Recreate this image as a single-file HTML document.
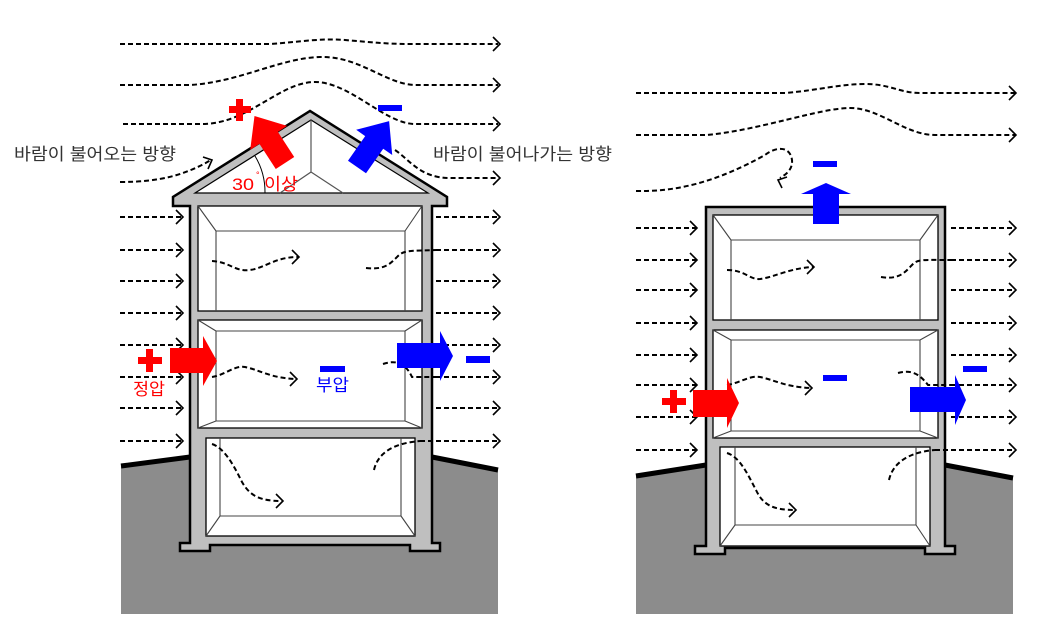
<!DOCTYPE html>
<html><head><meta charset="utf-8"><style>
html,body{margin:0;padding:0;background:#fff;}
svg{display:block;}
text{font-family:"Liberation Sans","Noto Sans CJK KR",sans-serif;}
</style></head><body>
<svg width="1050" height="636" viewBox="0 0 1050 636" xmlns="http://www.w3.org/2000/svg">
<polygon points="121,466 190,457 190,614 121,614" fill="#8c8c8c"/>
<polygon points="432,457 498,470 498,614 432,614" fill="#8c8c8c"/>
<rect x="180" y="540" width="260" height="74" fill="#8c8c8c"/>
<path d="M121,466 L190,457 M432,457 L498,470" stroke="#000" stroke-width="5" fill="none"/>
<polygon points="636,476 706,465 706,614 636,614" fill="#8c8c8c"/>
<polygon points="945,465 1013,478 1013,614 945,614" fill="#8c8c8c"/>
<rect x="695" y="540" width="260" height="74" fill="#8c8c8c"/>
<path d="M636,476 L706,465 M945,465 L1013,478" stroke="#000" stroke-width="5" fill="none"/>

<path d="M180,551 L210,551 L210,545 L410,545 L410,551 L440,551 L440,543 L432,543 L432,206 L447,206 L447,197 L310,111 L173,197 L173,206 L190,206 L190,543 L180,543 Z" fill="#bfbfbf" stroke="#000" stroke-width="2.5" stroke-linejoin="miter"/>
<polygon points="195,193 311,120 428,193" fill="#fff" stroke="#000" stroke-width="1.2"/>
<path d="M311,120 L311,172 L280,193 M311,172 L343,193" stroke="#555" stroke-width="1.2" fill="none"/>
<g fill="#fff" stroke="#000" stroke-width="1.3">
<rect x="198" y="206" width="224" height="105"/>
<rect x="198" y="320" width="224" height="108"/>
<rect x="206" y="438" width="209" height="98"/>
</g>
<g fill="none" stroke="#444" stroke-width="1.1">
<path d="M216,311 L216,231 L405,231 L405,311 M198,206 L216,231 M422,206 L405,231"/>
<path d="M216,331 L405,331 L405,421 L216,421 Z M198,320 L216,331 M422,320 L405,331 M198,428 L216,421 M422,428 L405,421"/>
<path d="M220,438 L220,516 L401,516 L401,438 M206,536 L220,516 M415,536 L401,516"/>
</g>

<path d="M695,554 L725,554 L725,548 L925,548 L925,554 L955,554 L955,546 L945,546 L945,207 L706,207 L706,546 L695,546 Z" fill="#bfbfbf" stroke="#000" stroke-width="2.5"/>
<g fill="#fff" stroke="#000" stroke-width="1.3">
<rect x="713" y="215" width="225" height="105"/>
<rect x="713" y="330" width="225" height="108"/>
<rect x="720" y="447" width="210" height="99"/>
</g>
<g fill="none" stroke="#444" stroke-width="1.1">
<path d="M731,320 L731,240 L920,240 L920,320 M713,215 L731,240 M938,215 L920,240"/>
<path d="M731,340 L920,340 L920,431 L731,431 Z M713,330 L731,340 M938,330 L920,340 M713,438 L731,431 M938,438 L920,431"/>
<path d="M735,447 L735,525 L916,525 L916,447 M720,546 L735,525 M930,546 L916,525"/>
</g>

<path d="M255,156 A70,70 0 0 1 265,193" fill="none" stroke="#000" stroke-width="1"/>

<g fill="none" stroke="#000" stroke-width="2" stroke-dasharray="5,3">
<path d="M120,44 L270,44 C300,42 320,38 345,40 C370,42 385,44 410,44 L498,44"/>
<path d="M120,85 L190,85 C240,82 280,58 320,57 C360,56 385,84 415,85 L498,85"/>
<path d="M123,124 L205,124 C250,122 280,82 315,82 C350,82 385,124 415,124 L498,124"/>
<path d="M120,182 C160,182 185,175 211,160"/>
<path d="M395,150 C410,160 420,178 450,178 L498,178"/>
<path d="M120,217 L182,217 M120,250 L182,250 M120,281 L182,281 M120,313 L182,313 M120,345 L182,345 M120,377 L182,377 M120,408 L182,408 M120,441 L182,441"/>
<path d="M436,217 L498,217 M436,250 L498,250 M436,281 L498,281 M436,313 L498,313 M436,345 L498,345 M436,377 L498,377 M436,408 L498,408 M420,441 L498,441"/>
<path d="M212,261 C230,262 235,272 250,270 C265,268 275,257 298,257"/>
<path d="M366,268 C385,270 390,264 398,256 C404,250 410,251 436,250"/>
<path d="M212,377 C225,375 235,365 245,367 C260,370 270,378 296,379"/>
<path d="M383,364 C395,360 405,362 412,377 L436,377"/>
<path d="M212,444 C225,448 235,468 242,482 C250,496 260,501 282,501"/>
<path d="M374,470 C378,452 395,443 420,441"/>
<path d="M636,93 L785,93 C820,90 840,84 865,84 C890,84 900,93 920,93 L1015,93"/>
<path d="M636,135 L707,135 C760,130 820,108 850,108 C880,108 905,135 935,135 L1015,135"/>
<path d="M636,191 C680,192 720,180 765,155 C775,147 790,145 792,160 C793,170 785,175 780,178"/>
<path d="M636,228 L696,228 M636,260 L696,260 M636,290 L696,290 M636,323 L696,323 M636,355 L696,355 M636,385 L696,385 M636,417 L696,417 M636,450 L696,450"/>
<path d="M951,228 L1015,228 M951,260 L1015,260 M951,290 L1015,290 M951,323 L1015,323 M951,355 L1015,355 M951,385 L1015,385 M951,417 L1015,417 M935,450 L1015,450"/>
<path d="M727,270 C745,270 750,280 760,279 C775,277 790,268 813,267"/>
<path d="M881,277 C900,280 905,272 913,264 C918,259 925,260 951,260"/>
<path d="M727,385 C740,383 750,375 760,377 C775,380 785,387 811,388"/>
<path d="M898,373 C910,370 918,372 928,385 L951,385"/>
<path d="M727,453 C740,457 748,475 756,490 C763,505 773,510 795,510"/>
<path d="M889,480 C893,462 910,452 935,450"/>
</g>
<g fill="none" stroke="#000" stroke-width="1.6">
<path d="M493,37 L500,44 L493,51 M493,78 L500,85 L493,92 M493,117 L500,124 L493,131 M493,171 L500,178 L493,185"/>
<path d="M203,157 L212,160 L208,169"/>
<path d="M176,210 L183,217 L176,224 M176,243 L183,250 L176,257 M176,274 L183,281 L176,288 M176,306 L183,313 L176,320 M176,338 L183,345 L176,352 M176,370 L183,377 L176,384 M176,401 L183,408 L176,415 M176,434 L183,441 L176,448"/>
<path d="M493,210 L500,217 L493,224 M493,243 L500,250 L493,257 M493,274 L500,281 L493,288 M493,306 L500,313 L493,320 M493,338 L500,345 L493,352 M493,370 L500,377 L493,384 M493,401 L500,408 L493,415 M493,434 L500,441 L493,448"/>
<path d="M292,250 L299,257 L292,264 M290,372 L297,379 L290,386 M276,494 L283,501 L276,508"/>
<path d="M1009,86 L1016,93 L1009,100 M1009,128 L1016,135 L1009,142"/>
<path d="M787,177 L778,180 L782,188"/>
<path d="M690,221 L697,228 L690,235 M690,253 L697,260 L690,267 M690,283 L697,290 L690,297 M690,316 L697,323 L690,330 M690,348 L697,355 L690,362 M690,378 L697,385 L690,392 M690,410 L697,417 L690,424 M690,443 L697,450 L690,457"/>
<path d="M1009,221 L1016,228 L1009,235 M1009,253 L1016,260 L1009,267 M1009,283 L1016,290 L1009,297 M1009,316 L1016,323 L1009,330 M1009,348 L1016,355 L1009,362 M1009,378 L1016,385 L1009,392 M1009,410 L1016,417 L1009,424 M1009,443 L1016,450 L1009,457"/>
<path d="M807,260 L814,267 L807,274 M805,381 L812,388 L805,395 M789,503 L796,510 L789,517"/>
</g>

<g transform="translate(285,163) rotate(-33)"><polygon points="-11,0 11,0 11,-30 22,-30 0,-56 -22,-30 -11,-30" fill="#f00"/></g>
<g transform="translate(357,167) rotate(35)"><polygon points="-11,0 11,0 11,-30 22,-30 0,-56 -22,-30 -11,-30" fill="#00f"/></g>
<rect x="229" y="106" width="22" height="7" fill="#f00"/><rect x="236" y="99" width="7" height="22" fill="#f00"/>
<rect x="378" y="105" width="24" height="6" fill="#00f"/>
<text x="232" y="190" font-size="17" fill="#f00" textLength="22" lengthAdjust="spacingAndGlyphs">30</text>
<text x="256" y="178" font-size="9" fill="#f00">°</text>
<text x="264" y="190" font-size="17" fill="#f00" textLength="34" lengthAdjust="spacingAndGlyphs">이상</text>
<text x="14" y="160" font-size="17" fill="#333" textLength="162" lengthAdjust="spacingAndGlyphs">바람이 불어오는 방향</text>
<text x="433" y="160" font-size="17" fill="#333" textLength="179" lengthAdjust="spacingAndGlyphs">바람이 불어나가는 방향</text>

<polygon points="170,348 203,348 203,336 217,361 203,386 203,373 170,373" fill="#f00"/>
<rect x="138" y="357" width="24" height="7" fill="#f00"/><rect x="146" y="349" width="7" height="23" fill="#f00"/>
<text x="133" y="395" font-size="17" fill="#f00" textLength="32" lengthAdjust="spacingAndGlyphs">정압</text>
<polygon points="397,343 440,343 440,331 453,356 440,381 440,368 397,368" fill="#00f"/>
<rect x="466" y="356" width="24" height="7" fill="#00f"/>
<rect x="320" y="366" width="25" height="6" fill="#00f"/>
<text x="316" y="391" font-size="17" fill="#00f" textLength="33" lengthAdjust="spacingAndGlyphs">부압</text>

<polygon points="693,390 727,390 727,378 739,403 727,428 727,417 693,417" fill="#f00"/>
<rect x="662" y="398" width="24" height="7" fill="#f00"/><rect x="670" y="390" width="7" height="23" fill="#f00"/>
<polygon points="910,387 955,387 955,375 966,400 955,425 955,412 910,412" fill="#00f"/>
<rect x="963" y="366" width="24" height="6" fill="#00f"/>
<rect x="823" y="375" width="24" height="6" fill="#00f"/>
<polygon points="813,224 839,224 839,194 851,194 826,183 801,194 813,194" fill="#00f"/>
<rect x="813" y="161" width="24" height="6" fill="#00f"/>
</svg>
</body></html>
